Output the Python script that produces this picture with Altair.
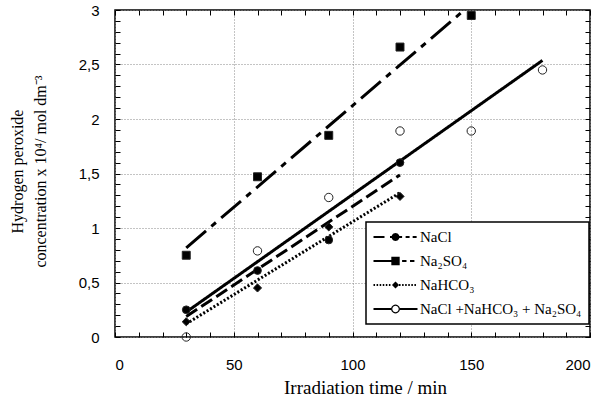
import altair as alt
import pandas as pd
import math

# ---------------- data ----------------
SERIES = ["NaCl", "Na₂SO₄", "NaHCO₃", "NaCl +NaHCO₃ + Na₂SO₄"]

NACL_X = [30, 60, 90, 120]
NACL_Y = [0.25, 0.61, 0.89, 1.60]

NA2SO4_X = [30, 60, 90, 120, 150]
NA2SO4_Y = [0.75, 1.47, 1.85, 2.66, 2.95]

NAHCO3_X = [30, 60, 90, 120]
NAHCO3_Y = [0.14, 0.45, 1.01, 1.29]

MIX_X = [30, 60, 90, 120, 150, 180]
MIX_Y = [0.0, 0.79, 1.28, 1.89, 1.89, 2.45]

X_MINOR = list(range(0, 201, 10))
Y_MINOR = [round(i * 0.1, 1) for i in range(31)]

rows = []
for name, xs, ys in zip(SERIES, [NACL_X, NA2SO4_X, NAHCO3_X, MIX_X],
                        [NACL_Y, NA2SO4_Y, NAHCO3_Y, MIX_Y]):
    for a, b in zip(xs, ys):
        rows.append({"x": a, "y": b, "series": name})
df = pd.DataFrame(rows)

# ---------------- layout ----------------
W, H = 475, 327
SERIF = "Liberation Serif"
SANS = "Liberation Sans"

# ---------------- legend symbols (line + marker as one path) ----------------
def seg(a, b, h=0.05):
    return f"M{a},{-h}L{b},{-h}L{b},{h}L{a},{h}Z"

def circ(r, cw=True, n=24):
    pts = []
    for i in range(n):
        t = 2 * math.pi * i / n * (1 if cw else -1)
        pts.append(f"{r*math.cos(t):.4f},{r*math.sin(t):.4f}")
    return "M" + "L".join(pts) + "Z"

def square(s):
    return seg(-s, s, s)

def diamond(s):
    return f"M0,{-s}L{s},0L0,{s}L{-s},0Z"

def dots(a, b, w=0.07, step=0.14, h=0.045):
    out = ""
    p = a
    while p + w <= b + 1e-9:
        out += seg(round(p, 3), round(p + w, 3), h)
        p += step
    return out

P_NACL = seg(-1, -0.5) + seg(-0.25, 0.3) + circ(0.18) + seg(0.46, 0.64) + seg(0.78, 0.96)
P_NA2SO4 = seg(-1, -0.1) + square(0.19) + seg(0.3, 0.5) + seg(0.66, 0.86)
P_NAHCO3 = dots(-1, -0.16) + diamond(0.16) + dots(0.16, 1.0)
P_MIX = seg(-1, -0.2) + circ(0.2, True) + circ(0.145, False) + seg(0.2, 1)

x_scale = alt.Scale(domain=[0, 200], nice=False)
y_scale = alt.Scale(domain=[0, 3], nice=False)

X_MAJOR_TEST = "datum.value % 50 === 0"
Y_MAJOR_TEST = "round(datum.value * 10) % 5 === 0"
INWARD = {"expr": "-5"}

base = alt.Chart(df)

# Layer 1: regression lines, main axes (labels, grid, inward ticks bottom/left)
lines = base.transform_regression(
    "x", "y", groupby=["series"]
).mark_line(clip=True, strokeWidth=3, color="black", strokeCap="butt").encode(
    x=alt.X("x:Q", scale=x_scale, axis=alt.Axis(
        orient="bottom", values=X_MINOR, format="d",
        labelExpr=f"{X_MAJOR_TEST} ? datum.label : ''",
        ticks=True, tickSize=INWARD, tickColor="black", tickWidth=1,
        domain=False, grid=True, gridColor="#888", gridDash=[1, 2], gridWidth=1,
        gridOpacity={"condition": {"test": X_MAJOR_TEST, "value": 1}, "value": 0},
        labelFont=SANS, labelFontSize=15, labelColor="black", labelPadding=25,
        labelOverlap=False,
        title="Irradiation time / min", titleFont=SERIF, titleFontSize=19,
        titleFontWeight="normal", titleColor="black", titleX=250, titleY=56,
        titleBaseline="alphabetic", titleAlign="center")),
    y=alt.Y("y:Q", scale=y_scale, axis=alt.Axis(
        orient="left", values=Y_MINOR,
        labelExpr=f"{Y_MAJOR_TEST} ? replace(format(datum.value, '~g'), '.', ',') : ''",
        ticks=True, tickSize=INWARD, tickColor="black", tickWidth=1,
        domain=False, grid=True, gridColor="#888", gridDash=[1, 2], gridWidth=1,
        gridOpacity={"condition": {"test": Y_MAJOR_TEST, "value": 1}, "value": 0},
        labelFont=SANS, labelFontSize=15, labelColor="black", labelPadding=21,
        labelOverlap=False,
        title=["Hydrogen peroxide", "concentration x 10⁴/ mol dm⁻³"],
        titleFont=SERIF, titleFontSize=16, titleFontWeight="normal",
        titleColor="black", titleLineHeight=23, titleAngle=270,
        titleX=-93, titleY=161, titleBaseline="alphabetic", titleAlign="center")),
    strokeDash=alt.StrokeDash("series:N", legend=None, scale=alt.Scale(
        domain=SERIES, range=[[13, 5], [26, 7, 6, 7], [2, 2], [1, 0]])),
    detail="series:N",
)

# Layer 2: measured points, inward ticks at top and right edges
points = base.mark_point(filled=True, stroke="#222", strokeWidth=1, opacity=1).encode(
    x=alt.X("x:Q", scale=x_scale, axis=alt.Axis(
        orient="top", values=X_MINOR, labelExpr="''", ticks=True,
        tickSize=INWARD, tickColor="black", tickWidth=1, domain=False, grid=False,
        title=" ")),
    y=alt.Y("y:Q", scale=y_scale, axis=alt.Axis(
        orient="right", values=Y_MINOR, labelExpr="''", ticks=True,
        tickSize=INWARD, tickColor="black", tickWidth=1, domain=False, grid=False,
        title=" ")),
    shape=alt.Shape("series:N", legend=None, scale=alt.Scale(
        domain=SERIES, range=["circle", "square", "diamond", "circle"])),
    fill=alt.Fill("series:N", legend=None, scale=alt.Scale(
        domain=SERIES, range=["black", "black", "black", "transparent"])),
    size=alt.Size("series:N", legend=None, scale=alt.Scale(
        domain=SERIES, range=[60, 70, 40, 60])),
)

# Layer 3: invisible carrier for the legend
legend_layer = base.mark_point(filled=True, fill="black", stroke="black",
                               strokeWidth=0.6, size=1936).encode(
    x=alt.X("x:Q", scale=x_scale, axis=None),
    y=alt.Y("y:Q", scale=y_scale, axis=None),
    shape=alt.Shape("series:N", scale=alt.Scale(
        domain=SERIES, range=[P_NACL, P_NA2SO4, P_NAHCO3, P_MIX]),
        legend=alt.Legend(
            title=None, orient="none", legendX=251, legendY=212, padding=7,
            fillColor="white", strokeColor="black", rowPadding=8,
            clipHeight=16,
            labelFont=SERIF, labelFontSize=15, labelColor="black",
            labelOffset=2, labelLimit=400, symbolSize=1936,
            symbolStrokeWidth=0.6, symbolFillColor="black",
            symbolStrokeColor="black", symbolOpacity=1)),
    opacity=alt.value(0),
)

chart = alt.layer(lines, points, legend_layer).resolve_scale(
    shape="independent"
).resolve_axis(
    x="independent", y="independent"
).properties(
    width=W, height=H,
    autosize=alt.AutoSizeParams(type="none"),
    padding={"left": 115, "top": 10, "right": 15, "bottom": 59},
    background="white",
).configure_view(
    stroke="black", strokeWidth=1.5
).configure_legend(
    strokeWidth=1.5
)

chart.save("out.html", embed_options={"renderer": "svg", "actions": False})
